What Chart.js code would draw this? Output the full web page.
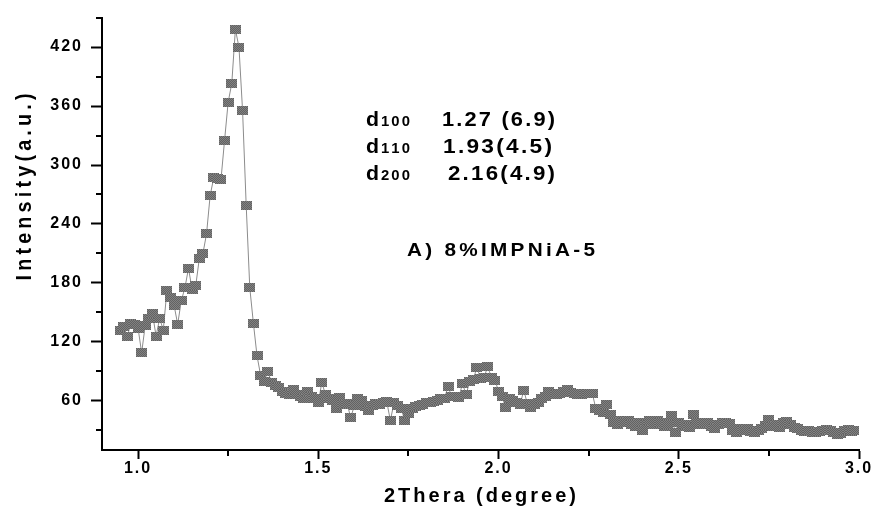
<!DOCTYPE html>
<html>
<head>
<meta charset="utf-8">
<script src="https://cdn.jsdelivr.net/npm/chart.js@4/dist/chart.umd.min.js"></script>
<style>
  html, body { margin: 0; padding: 0; background: #fff; }
  canvas { display: block; }
</style>
</head>
<body>
<canvas id="xrd" width="877" height="514"></canvas>
<script>
// Scan angles (2θ, degrees)
const TWO_THETA = [
  0.95, 0.96, 0.97, 0.98, 0.99,
  1.00, 1.01, 1.02, 1.03, 1.04, 1.05, 1.06, 1.07, 1.08, 1.09,
  1.10, 1.11, 1.12, 1.13, 1.14, 1.15, 1.16, 1.17, 1.18, 1.19,
  1.20, 1.21, 1.22, 1.23, 1.24, 1.25, 1.26, 1.27, 1.28, 1.29,
  1.30, 1.31, 1.32, 1.33, 1.34, 1.35, 1.36, 1.37, 1.38, 1.39,
  1.40, 1.41, 1.42, 1.43, 1.44, 1.45, 1.46, 1.47, 1.48, 1.49,
  1.50, 1.51, 1.52, 1.53, 1.54, 1.55, 1.56, 1.57, 1.58, 1.59,
  1.60, 1.61, 1.62, 1.63, 1.64, 1.65, 1.66, 1.67, 1.68, 1.69,
  1.70, 1.71, 1.72, 1.73, 1.74, 1.75, 1.76, 1.77, 1.78, 1.79,
  1.80, 1.81, 1.82, 1.83, 1.84, 1.85, 1.86, 1.87, 1.88, 1.89,
  1.90, 1.91, 1.92, 1.93, 1.94, 1.95, 1.96, 1.97, 1.98, 1.99,
  2.00, 2.01, 2.02, 2.03, 2.04, 2.05, 2.06, 2.07, 2.08, 2.09,
  2.10, 2.11, 2.12, 2.13, 2.14, 2.15, 2.16, 2.17, 2.18, 2.19,
  2.20, 2.21, 2.22, 2.23, 2.24, 2.25, 2.26, 2.27, 2.28, 2.29,
  2.30, 2.31, 2.32, 2.33, 2.34, 2.35, 2.36, 2.37, 2.38, 2.39,
  2.40, 2.41, 2.42, 2.43, 2.44, 2.45, 2.46, 2.47, 2.48, 2.49,
  2.50, 2.51, 2.52, 2.53, 2.54, 2.55, 2.56, 2.57, 2.58, 2.59,
  2.60, 2.61, 2.62, 2.63, 2.64, 2.65, 2.66, 2.67, 2.68, 2.69,
  2.70, 2.71, 2.72, 2.73, 2.74, 2.75, 2.76, 2.77, 2.78, 2.79,
  2.80, 2.81, 2.82, 2.83, 2.84, 2.85, 2.86, 2.87, 2.88, 2.89,
  2.90, 2.91, 2.92, 2.93, 2.94, 2.95, 2.96, 2.97, 2.98, 2.99
];

// Measured intensity (a.u.) at each angle
const INTENSITY = [
  132, 136, 125, 139, 138,
  134, 109, 137, 144, 149, 126, 144, 132, 172, 165,
  157, 138, 162, 175, 195, 173, 177, 205, 210, 230,
  269, 287, 286, 285, 325, 364, 383, 438, 420, 355,
  259, 175, 139, 106, 86, 80, 90, 79, 76, 74,
  70, 68, 66, 72, 66, 64, 62, 70, 64, 62,
  58, 79, 66, 62, 60, 52, 63, 56, 57, 43,
  55, 62, 60, 54, 50, 55, 57, 56, 58, 59,
  40, 58, 55, 52, 40, 47, 52, 54, 55, 56,
  58, 58, 59, 60, 62, 62, 75, 64, 64, 63,
  78, 66, 80, 82, 94, 83, 84, 95, 84, 81,
  70, 64, 53, 62, 60, 58, 56, 71, 57, 53,
  56, 58, 62, 64, 70, 68, 66, 67, 70, 72,
  69, 67, 66, 66, 67, 67, 68, 52, 50, 48,
  56, 46, 38, 36, 40, 38, 40, 36, 34, 38,
  30, 36, 40, 36, 40, 38, 34, 36, 45, 28,
  38, 34, 36, 33, 46, 38, 36, 38, 38, 34,
  32, 36, 38, 38, 37, 30, 28, 32, 30, 32,
  29, 28, 30, 32, 35, 41, 34, 36, 33, 38,
  39, 36, 33, 32, 30, 29, 30, 28, 28, 29,
  30, 31, 30, 28, 26, 27, 30, 31, 29, 30
];

// Axis ticks
const X_TICKS = [1.0, 1.5, 2.0, 2.5, 3.0];
const X_MINOR = [1.25, 1.75, 2.25, 2.75];
const Y_TICKS = [60, 120, 180, 240, 300, 360, 420];
const Y_MINOR = [30, 90, 150, 210, 270, 330, 390, 450];

// Texts
const X_TITLE = '2Thera (degree)';
const Y_TITLE = 'Intensity(a.u.)';
const PLANES = ['100', '110', '200'];
const D_SPACINGS = ['1.27 (6.9)', '1.93(4.5)', '2.16(4.9)'];
const SAMPLE = 'A) 8%IMPNiA-5';

const FONT = "'Liberation Sans', Arial, sans-serif";

// Dithered grey square used as the point marker
function makeMarker(w, h) {
  const c = document.createElement('canvas');
  c.width = w; c.height = h;
  const g = c.getContext('2d');
  for (let y = 0; y < h; y++) {
    for (let x = 0; x < w; x++) {
      g.fillStyle = (x + y) % 2 ? '#828282' : '#626262';
      g.fillRect(x, y, 1, 1);
    }
  }
  return c;
}
const marker = makeMarker(11, 9);

// Draws text char by char with extra spacing, stretched to a given width
function drawSpaced(ctx, text, o) {
  ctx.save();
  ctx.letterSpacing = '0px';
  ctx.font = o.font;
  ctx.fillStyle = '#000';
  ctx.textAlign = 'left';
  ctx.textBaseline = 'alphabetic';
  const chars = [...text];
  const ws = chars.map(c => ctx.measureText(c).width);
  const ls = o.ls || 0;
  const natural = ws.reduce((a, b) => a + b, 0) + ls * (chars.length - 1);
  const sx = o.width ? o.width / natural : 1;
  ctx.translate(o.x, o.y);
  if (o.rotate) ctx.rotate(o.rotate);
  ctx.scale(sx, o.sy || 1);
  let cx = o.align === 'center' ? -natural / 2 : (o.align === 'right' ? -natural : 0);
  chars.forEach((c, i) => { ctx.fillText(c, cx, 0); cx += ws[i] + ls; });
  ctx.restore();
}

const tickSpacing = {
  id: 'tickSpacing',
  beforeUpdate(chart) { chart.ctx.letterSpacing = '2px'; },
  beforeDraw(chart) { chart.ctx.letterSpacing = '2px'; },
  beforeDatasetsDraw(chart) {
    chart.ctx.letterSpacing = '0px';
    chart.ctx.imageSmoothingEnabled = false;
  }
};

const decorations = {
  id: 'decorations',
  afterDraw(chart) {
    const { ctx } = chart;
    const xs = chart.scales.x, ys = chart.scales.y;
    const left = chart.chartArea.left, bottom = chart.chartArea.bottom;

    // minor ticks
    ctx.save();
    ctx.strokeStyle = '#000';
    ctx.lineWidth = 2;
    ctx.beginPath();
    Y_MINOR.forEach(v => {
      const py = Math.round(ys.getPixelForValue(v));
      ctx.moveTo(left - 6, py);
      ctx.lineTo(left, py);
    });
    X_MINOR.forEach(v => {
      const px = Math.round(xs.getPixelForValue(v));
      ctx.moveTo(px, bottom);
      ctx.lineTo(px, bottom + 6);
    });
    ctx.stroke();
    ctx.restore();

    // axis titles
    drawSpaced(ctx, X_TITLE, {
      x: 480, y: 502, font: 'bold 20px ' + FONT, ls: 3, width: 192, align: 'center'
    });
    drawSpaced(ctx, Y_TITLE, {
      x: 31, y: 187, font: 'bold 19px ' + FONT, ls: 4, width: 187, align: 'center',
      rotate: -Math.PI / 2, sy: 1.15
    });

    // d-spacing annotations
    const baselines = [126, 153, 180];
    const valueLeft = [442, 443, 448];
    const valueWidth = [113, 109, 107];
    PLANES.forEach((p, i) => {
      drawSpaced(ctx, 'd', { x: 366, y: baselines[i], font: 'bold 20px ' + FONT, width: 13 });
      drawSpaced(ctx, p, { x: 381, y: baselines[i], font: 'bold 14px ' + FONT, ls: 2, width: 29 });
      drawSpaced(ctx, D_SPACINGS[i], {
        x: valueLeft[i], y: baselines[i], font: 'bold 20px ' + FONT, ls: 2, width: valueWidth[i]
      });
    });

    // sample label
    drawSpaced(ctx, SAMPLE, { x: 407, y: 256, font: 'bold 19px ' + FONT, ls: 3, width: 188 });
  }
};

new Chart(document.getElementById('xrd'), {
  type: 'line',
  data: {
    datasets: [{
      data: TWO_THETA.map((t, i) => ({ x: t, y: INTENSITY[i] })),
      borderColor: '#8c8c8c',
      borderWidth: 1,
      tension: 0,
      pointStyle: marker,
      pointRadius: 5,
      pointHoverRadius: 5
    }]
  },
  options: {
    responsive: false,
    devicePixelRatio: 1,
    animation: false,
    events: [],
    layout: { padding: { top: 15, right: 18, left: 0, bottom: 0 } },
    plugins: { legend: { display: false }, tooltip: { enabled: false } },
    scales: {
      x: {
        type: 'linear',
        min: 0.9,
        max: 3.0,
        afterBuildTicks: s => { s.ticks = X_TICKS.map(v => ({ value: v })); },
        afterFit: s => { s.height = 64; },
        border: { display: true, color: '#000', width: 2 },
        grid: {
          display: true, drawOnChartArea: false, drawTicks: true,
          tickLength: 9, tickWidth: 2, tickColor: '#000'
        },
        ticks: {
          padding: 0,
          color: '#000',
          font: { family: FONT, size: 16, weight: 'bold' },
          maxRotation: 0,
          callback: v => Number(v).toFixed(1)
        }
      },
      y: {
        type: 'linear',
        min: 10,
        max: 450,
        afterBuildTicks: s => { s.ticks = Y_TICKS.map(v => ({ value: v })); },
        afterFit: s => { s.width = 102; },
        border: { display: true, color: '#000', width: 2 },
        grid: {
          display: true, drawOnChartArea: false, drawTicks: true,
          tickLength: 11, tickWidth: 2, tickColor: '#000'
        },
        ticks: {
          padding: 8,
          color: '#000',
          font: { family: FONT, size: 16, weight: 'bold' },
          callback: v => String(v)
        }
      }
    }
  },
  plugins: [tickSpacing, decorations]
});
</script>
</body>
</html>
